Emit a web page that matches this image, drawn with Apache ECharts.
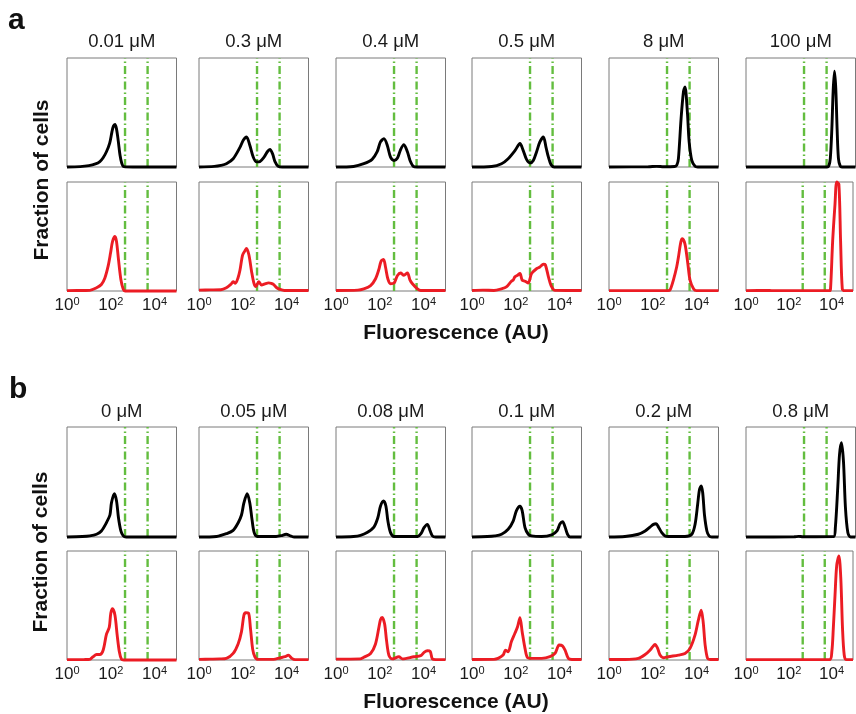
<!DOCTYPE html>
<html>
<head>
<meta charset="utf-8">
<script src="https://cdn.jsdelivr.net/npm/echarts@6/dist/echarts.min.js"></script>
<style>
html,body{margin:0;padding:0;background:#fff;}
#chart{width:856px;height:714px;}
</style>
</head>
<body>
<div id="chart"></div>
<script>
// ---------- DATA (x = log10 fluorescence, y = fraction of cells, panel-normalised) ----------
const tickExponents = [0, 2, 4];
const gates = [2.65, 3.68];
const concA = ['0.01 μM', '0.3 μM', '0.4 μM', '0.5 μM', '8 μM', '100 μM'];
const concB = ['0 μM', '0.05 μM', '0.08 μM', '0.1 μM', '0.2 μM', '0.8 μM'];

// Section a, black (top row)
const aTop001 = [[0,0],[0.6,0.003],[1.0,0.012],[1.3,0.028],[1.5,0.05],[1.65,0.085],[1.8,0.14],[1.95,0.22],[2.05,0.32],[2.12,0.375],[2.19,0.39],[2.26,0.35],[2.34,0.24],[2.42,0.11],[2.5,0.035],[2.6,0.003],[3,0],[5,0]];
const aTop03 = [[0,0],[0.7,0.006],[1.0,0.015],[1.25,0.03],[1.56,0.076],[1.87,0.18],[2.02,0.245],[2.17,0.275],[2.32,0.2],[2.48,0.09],[2.63,0.047],[2.78,0.05],[2.97,0.09],[3.12,0.14],[3.24,0.16],[3.36,0.12],[3.47,0.05],[3.62,0.006],[3.8,0],[5,0]];
const aTop04 = [[0,0],[0.8,0.005],[1.27,0.03],[1.65,0.07],[1.88,0.14],[2.03,0.23],[2.19,0.26],[2.34,0.2],[2.49,0.09],[2.65,0.06],[2.8,0.08],[2.95,0.16],[3.1,0.205],[3.26,0.14],[3.38,0.06],[3.53,0.006],[3.7,0],[5,0]];
const aTop05 = [[0,0],[0.9,0.005],[1.35,0.03],[1.65,0.076],[1.96,0.15],[2.19,0.215],[2.34,0.15],[2.49,0.07],[2.65,0.037],[2.8,0.06],[2.95,0.14],[3.1,0.23],[3.26,0.275],[3.38,0.18],[3.49,0.09],[3.61,0.02],[3.75,0],[5,0]];
const aTop8 = [[0,0],[1.8,0.002],[2.18,0.006],[2.5,0.002],[3.0,0.004],[3.1,0.02],[3.17,0.076],[3.29,0.44],[3.4,0.69],[3.47,0.734],[3.58,0.5],[3.66,0.23],[3.78,0.06],[3.93,0.006],[4.05,0],[5,0]];
const aTop100 = [[0,0],[3.7,0],[3.78,0.01],[3.85,0.08],[3.92,0.35],[3.98,0.7],[4.04,0.878],[4.1,0.72],[4.16,0.35],[4.22,0.08],[4.3,0.01],[4.38,0],[5,0]];

// Section a, red (bottom row)
const aBot001 = [[0,0.003],[0.8,0.005],[1.04,0.006],[1.35,0.03],[1.57,0.06],[1.73,0.12],[1.88,0.23],[1.99,0.35],[2.08,0.455],[2.19,0.5],[2.26,0.455],[2.35,0.29],[2.46,0.106],[2.57,0.015],[2.65,0],[5,0]];
const aBot03 = [[0,0.008],[0.5,0.01],[1.0,0.012],[1.25,0.03],[1.45,0.06],[1.56,0.085],[1.66,0.07],[1.78,0.12],[1.87,0.19],[1.99,0.33],[2.1,0.37],[2.17,0.39],[2.28,0.33],[2.4,0.18],[2.51,0.07],[2.6,0.04],[2.73,0.085],[2.86,0.055],[3.0,0.065],[3.18,0.075],[3.3,0.07],[3.4,0.06],[3.55,0.03],[3.7,0.015],[3.9,0.005],[5,0.005]];
const aBot04 = [[0,0.005],[1.0,0.008],[1.27,0.02],[1.58,0.05],[1.8,0.11],[1.96,0.2],[2.06,0.275],[2.17,0.29],[2.26,0.22],[2.37,0.11],[2.49,0.067],[2.65,0.073],[2.8,0.14],[2.95,0.165],[3.1,0.145],[3.26,0.165],[3.38,0.1],[3.49,0.067],[3.72,0.02],[3.87,0.005],[5,0.005]];
const aBot05 = [[0,0.005],[0.5,0.008],[1.0,0.005],[1.35,0.02],[1.57,0.037],[1.8,0.09],[1.88,0.1],[1.96,0.13],[2.08,0.145],[2.19,0.16],[2.29,0.1],[2.42,0.09],[2.57,0.073],[2.72,0.16],[2.95,0.205],[3.1,0.22],[3.26,0.245],[3.35,0.24],[3.49,0.13],[3.61,0.05],[3.79,0.006],[5,0.005]];
const aBot8 = [[0,0.003],[2.7,0.003],[2.79,0.01],[2.94,0.1],[3.09,0.22],[3.17,0.31],[3.28,0.45],[3.35,0.48],[3.47,0.43],[3.6,0.25],[3.7,0.1],[3.86,0.02],[4.0,0.003],[5,0.003]];
const aBot100 = [[0,0.003],[1.0,0.005],[1.2,0.003],[3.9,0.003],[3.95,0.02],[4.05,0.46],[4.16,0.8],[4.24,1.0],[4.34,0.98],[4.42,0.46],[4.5,0.02],[4.6,0.003],[5,0.003]];

// Section b, black (top row)
const bTop0 = [[0,0],[0.7,0.004],[1.04,0.01],[1.35,0.025],[1.57,0.055],[1.8,0.13],[1.96,0.2],[2.03,0.31],[2.16,0.394],[2.26,0.33],[2.35,0.175],[2.46,0.055],[2.57,0.01],[2.7,0],[5,0]];
const bTop005 = [[0,0],[0.8,0.005],[1.25,0.03],[1.56,0.06],[1.79,0.13],[1.94,0.2],[2.05,0.31],[2.2,0.394],[2.32,0.31],[2.42,0.16],[2.52,0.04],[2.66,0.005],[3.52,0.005],[3.75,0.012],[3.98,0.025],[4.18,0.01],[4.35,0],[5,0]];
const bTop008 = [[0,0],[0.8,0.005],[1.12,0.015],[1.42,0.04],[1.73,0.09],[1.91,0.175],[2.03,0.28],[2.17,0.327],[2.28,0.28],[2.37,0.145],[2.49,0.04],[2.65,0.005],[3.73,0.005],[3.88,0.03],[4.02,0.085],[4.17,0.115],[4.3,0.055],[4.4,0.01],[4.55,0],[5,0]];
const bTop01 = [[0,0],[0.7,0.004],[1.04,0.01],[1.35,0.025],[1.65,0.07],[1.88,0.145],[2.03,0.24],[2.19,0.28],[2.29,0.24],[2.42,0.085],[2.57,0.025],[2.72,0.01],[3.18,0.005],[3.64,0.02],[3.88,0.055],[4.02,0.12],[4.14,0.14],[4.25,0.09],[4.36,0.025],[4.48,0],[5,0]];
const bTop02 = [[0,0],[0.73,0.005],[1.34,0.025],[1.65,0.055],[1.87,0.09],[2.03,0.115],[2.15,0.12],[2.26,0.09],[2.41,0.04],[2.56,0.01],[2.71,0.005],[3.47,0.005],[3.78,0.025],[3.93,0.115],[4.05,0.3],[4.13,0.43],[4.21,0.464],[4.28,0.4],[4.36,0.2],[4.47,0.055],[4.57,0.01],[4.7,0],[5,0]];
const bTop08 = [[0,0],[2.2,0.002],[2.4,0.006],[2.6,0.002],[4.0,0.003],[4.08,0.085],[4.19,0.45],[4.27,0.75],[4.36,0.857],[4.45,0.69],[4.54,0.27],[4.65,0.04],[4.77,0],[5,0]];

// Section b, red (bottom row)
const bBot0 = [[0,0.003],[0.8,0.004],[1.04,0.006],[1.19,0.03],[1.35,0.05],[1.5,0.05],[1.65,0.09],[1.8,0.235],[1.93,0.3],[2.0,0.43],[2.08,0.47],[2.19,0.41],[2.29,0.23],[2.39,0.076],[2.49,0.006],[2.6,0],[5,0]];
const bBot005 = [[0,0.006],[0.5,0.008],[0.95,0.01],[1.25,0.015],[1.56,0.06],[1.79,0.15],[1.94,0.26],[2.05,0.41],[2.13,0.433],[2.26,0.43],[2.35,0.29],[2.45,0.1],[2.55,0.03],[2.7,0.006],[3.4,0.006],[3.7,0.02],[3.93,0.03],[4.08,0.045],[4.24,0.015],[4.39,0.003],[5,0.003]];
const bBot008 = [[0,0.008],[1.1,0.01],[1.27,0.025],[1.58,0.06],[1.8,0.145],[1.96,0.3],[2.03,0.37],[2.11,0.39],[2.22,0.33],[2.31,0.175],[2.42,0.04],[2.57,0.01],[2.87,0.03],[3.03,0.01],[3.56,0.03],[3.87,0.04],[4.02,0.07],[4.17,0.085],[4.3,0.08],[4.4,0.01],[4.56,0.003],[5,0.003]];
const bBot01 = [[0,0.005],[1.0,0.006],[1.19,0.015],[1.42,0.045],[1.53,0.09],[1.65,0.076],[1.8,0.17],[1.96,0.245],[2.08,0.305],[2.19,0.387],[2.29,0.26],[2.42,0.107],[2.54,0.02],[2.72,0.015],[3.18,0.015],[3.56,0.03],[3.79,0.06],[3.98,0.137],[4.13,0.13],[4.25,0.09],[4.4,0.015],[4.56,0.005],[5,0.005]];
const bBot02 = [[0,0.005],[0.73,0.005],[1.34,0.015],[1.65,0.05],[1.87,0.09],[1.99,0.12],[2.1,0.143],[2.22,0.107],[2.33,0.046],[2.48,0.02],[2.71,0.03],[3.17,0.045],[3.47,0.06],[3.7,0.107],[3.93,0.23],[4.08,0.366],[4.21,0.457],[4.3,0.35],[4.39,0.137],[4.5,0.015],[4.62,0.005],[5,0.005]];
const bBot08 = [[0,0.003],[3.9,0.003],[4.01,0.076],[4.08,0.29],[4.16,0.595],[4.24,0.87],[4.34,0.954],[4.43,0.75],[4.51,0.29],[4.59,0.046],[4.69,0.003],[5,0.003]];

// ---------- LAYOUT ----------
const FONT = "'Liberation Sans', Arial, Helvetica, sans-serif";
const colLefts = [67, 199, 336, 472, 609, 746];
const panelW = 109.5;
const sections = [
  { tops: [58, 182], heights: [109, 109], concs: concA, titleY: 41.5,
    rows: [[aTop001, aTop03, aTop04, aTop05, aTop8, aTop100], [aBot001, aBot03, aBot04, aBot05, aBot8, aBot100]] },
  { tops: [427, 551], heights: [110, 109], concs: concB, titleY: 411.5,
    rows: [[bTop0, bTop005, bTop008, bTop01, bTop02, bTop08], [bBot0, bBot005, bBot008, bBot01, bBot02, bBot08]] }
];
const rowColors = ['#000000', '#ec1c24'];
const gateColor = '#63bd3f';

const grid = [], xAxis = [], yAxis = [], series = [], graphic = [];
let gi = 0;
sections.forEach((sec, si) => {
  for (let r = 0; r < 2; r++) {
    for (let c = 0; c < 6; c++) {
      grid.push({ left: colLefts[c], top: sec.tops[r], width: panelW, height: sec.heights[r],
        show: true, borderColor: '#7a7a7a', borderWidth: 1, backgroundColor: 'transparent' });
      xAxis.push({ gridIndex: gi, type: 'value', min: 0, max: 5, interval: 2,
        axisLine: { show: false }, axisTick: { show: false }, splitLine: { show: false },
        axisLabel: { show: r === 1, margin: 5, color: '#1a1a1a',
          formatter: v => tickExponents.indexOf(v) >= 0 ? '{b|10}{s|' + v + '}' : '',
          rich: { b: { fontSize: 17, lineHeight: 19, fontFamily: FONT, color: '#1a1a1a' },
                  s: { fontSize: 11, lineHeight: 10, verticalAlign: 'top', fontFamily: FONT, color: '#1a1a1a' } } } });
      yAxis.push({ gridIndex: gi, type: 'value', min: 0, max: 1, show: false, splitLine: { show: false } });
      gates.forEach(g => {
        series.push({ type: 'line', xAxisIndex: gi, yAxisIndex: gi, data: [[g, 0], [g, 1]],
          symbol: 'none', silent: true, z: 1, animation: false,
          lineStyle: { color: gateColor, width: 2.4, type: [8, 3, 1.5, 3] } });
      });
      series.push({ type: 'line', xAxisIndex: gi, yAxisIndex: gi, data: sec.rows[r][c],
        symbol: 'none', smooth: 0.3, clip: false, z: 2, animation: false,
        lineStyle: { color: rowColors[r], width: 2.9 } });
      gi++;
    }
  }
  // column titles
  sec.concs.forEach((t, c) => {
    graphic.push({ type: 'text', x: colLefts[c] + panelW / 2, y: sec.titleY,
      style: { text: t, font: '18.5px ' + FONT, fill: '#1a1a1a', align: 'center', verticalAlign: 'middle',
               textAlign: 'center', textVerticalAlign: 'middle' } });
  });
});

// section letters and axis titles
const texts = [
  { t: 'a', x: 8, y: 21, font: 'bold 30px ' + FONT, align: 'left', rot: 0 },
  { t: 'b', x: 9, y: 390, font: 'bold 30px ' + FONT, align: 'left', rot: 0 },
  { t: 'Fraction of cells', x: 42, y: 180, font: 'bold 21px ' + FONT, align: 'center', rot: Math.PI / 2 },
  { t: 'Fraction of cells', x: 41, y: 552, font: 'bold 21px ' + FONT, align: 'center', rot: Math.PI / 2 },
  { t: 'Fluorescence (AU)', x: 456, y: 333, font: 'bold 21px ' + FONT, align: 'center', rot: 0 },
  { t: 'Fluorescence (AU)', x: 456, y: 702, font: 'bold 21px ' + FONT, align: 'center', rot: 0 }
];
texts.forEach(o => {
  graphic.push({ type: 'text', x: o.x, y: o.y, rotation: o.rot,
    style: { text: o.t, font: o.font, fill: '#111', align: o.align, verticalAlign: 'middle',
             textAlign: o.align, textVerticalAlign: 'middle' } });
});

const chart = echarts.init(document.getElementById('chart'), null, { renderer: 'canvas' });
chart.setOption({
  animation: false,
  backgroundColor: '#ffffff',
  textStyle: { fontFamily: FONT },
  grid, xAxis, yAxis, series, graphic
});
</script>
</body>
</html>
